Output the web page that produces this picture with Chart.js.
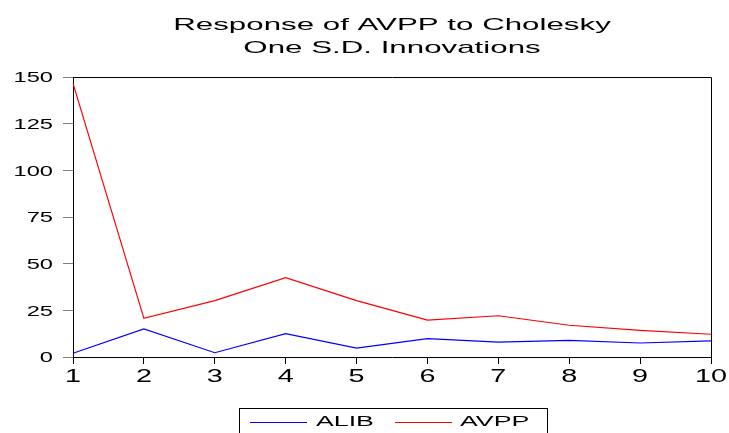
<!DOCTYPE html>
<html>
<head>
<meta charset="utf-8">
<script src="https://cdn.jsdelivr.net/npm/chart.js@4.4.0/dist/chart.umd.min.js"></script>
<style>
  html, body { margin: 0; padding: 0; background: #fff; }
  canvas { display: block; }
</style>
</head>
<body>
<canvas id="c" width="729" height="433"></canvas>
<script>
const categories = ['1', '2', '3', '4', '5', '6', '7', '8', '9', '10'];
const alibValues = [2.0, 15.0, 2.3, 12.5, 4.8, 9.8, 8.0, 8.9, 7.5, 8.6];
const avppValues = [146.6, 20.7, 30.2, 42.5, 30.2, 19.8, 22.1, 17.0, 14.3, 12.2];
const titleLines = ['Response of AVPP to Cholesky', 'One S.D. Innovations'];
const seriesNames = ['ALIB', 'AVPP'];
const seriesColors = ['#0000ff', '#ff0000'];
const yMin = 0, yMax = 150, yStep = 25;

const FONT = '"Liberation Sans", Arial, Helvetica, sans-serif';

function sText(ctx, txt, x, y, size, S, align) {
  ctx.save();
  ctx.font = size + 'px ' + FONT;
  ctx.textBaseline = 'alphabetic';
  ctx.textAlign = 'left';
  const w = ctx.measureText(txt).width * S;
  let x0 = x;
  if (align === 'center') x0 = x - w / 2;
  else if (align === 'right') x0 = x - w;
  ctx.translate(x0, y);
  ctx.scale(S, 1);
  ctx.fillStyle = '#000';
  ctx.fillText(txt, 0, 0);
  ctx.restore();
}

const decor = {
  id: 'decor',
  afterDraw(chart) {
    const ctx = chart.ctx;
    const a = chart.chartArea;
    // top and right frame
    ctx.save();
    ctx.strokeStyle = '#000';
    ctx.lineWidth = 1;
    ctx.beginPath();
    ctx.moveTo(Math.round(a.left) + 0.5, Math.round(a.top) + 0.5);
    ctx.lineTo(Math.round(a.right) + 0.5, Math.round(a.top) + 0.5);
    ctx.lineTo(Math.round(a.right) + 0.5, Math.round(a.bottom) + 0.5);
    ctx.stroke();
    ctx.restore();

    // title
    const cx = (a.left + a.right) / 2;
    sText(ctx, titleLines[0], cx, 29.5, 17, 1.84, 'center');
    sText(ctx, titleLines[1], cx, 52.5, 17, 1.84, 'center');

    // y tick labels
    const ys = chart.scales.y;
    ys.ticks.forEach((t, i) => {
      const py = ys.getPixelForTick(i);
      sText(ctx, String(t.value), 53, py + 5.3, 14, 1.69, 'right');
    });
    // x tick labels
    const xs = chart.scales.x;
    xs.ticks.forEach((t, i) => {
      const px = xs.getPixelForTick(i);
      sText(ctx, categories[i], px, 381.5, 18, 1.6, 'center');
    });

    // legend
    ctx.save();
    ctx.strokeStyle = '#000';
    ctx.lineWidth = 1;
    ctx.strokeRect(239.5, 408.5, 308, 40);
    const entries = [
      { x1: 250, x2: 307, tx: 316 },
      { x1: 395, x2: 452, tx: 460 }
    ];
    chart.data.datasets.forEach((ds, i) => {
      const e = entries[i];
      ctx.strokeStyle = ds.borderColor;
      ctx.lineWidth = 1.2;
      ctx.beginPath();
      ctx.moveTo(e.x1, 422.5);
      ctx.lineTo(e.x2, 422.5);
      ctx.stroke();
      sText(ctx, ds.label, e.tx, 426, 15, 1.78, 'left');
    });
    ctx.restore();
  }
};

new Chart(document.getElementById('c'), {
  type: 'line',
  data: {
    labels: categories,
    datasets: [
      { label: seriesNames[0], data: alibValues, borderColor: seriesColors[0], borderWidth: 1.2, pointRadius: 0, tension: 0, fill: false },
      { label: seriesNames[1], data: avppValues, borderColor: seriesColors[1], borderWidth: 1.2, pointRadius: 0, tension: 0, fill: false }
    ]
  },
  options: {
    responsive: false,
    animation: false,
    devicePixelRatio: 1,
    layout: { padding: { left: 0, right: 18, top: 77, bottom: 46 } },
    plugins: { legend: { display: false }, title: { display: false }, tooltip: { enabled: false } },
    scales: {
      x: {
        type: 'category',
        offset: false,
        grid: { display: true, drawOnChartArea: false, drawTicks: true, tickLength: 7, color: '#000', lineWidth: 1 },
        border: { display: true, color: '#000', width: 1 },
        ticks: { display: false },
        afterFit(s) { s.height = 30; }
      },
      y: {
        min: yMin, max: yMax,
        ticks: { display: false, stepSize: yStep },
        grid: { display: true, drawOnChartArea: false, drawTicks: true, tickLength: 10, color: '#808080', lineWidth: 1 },
        border: { display: true, color: '#000', width: 1 },
        afterFit(s) { s.width = 73; }
      }
    }
  },
  plugins: [decor]
});
</script>
</body>
</html>
